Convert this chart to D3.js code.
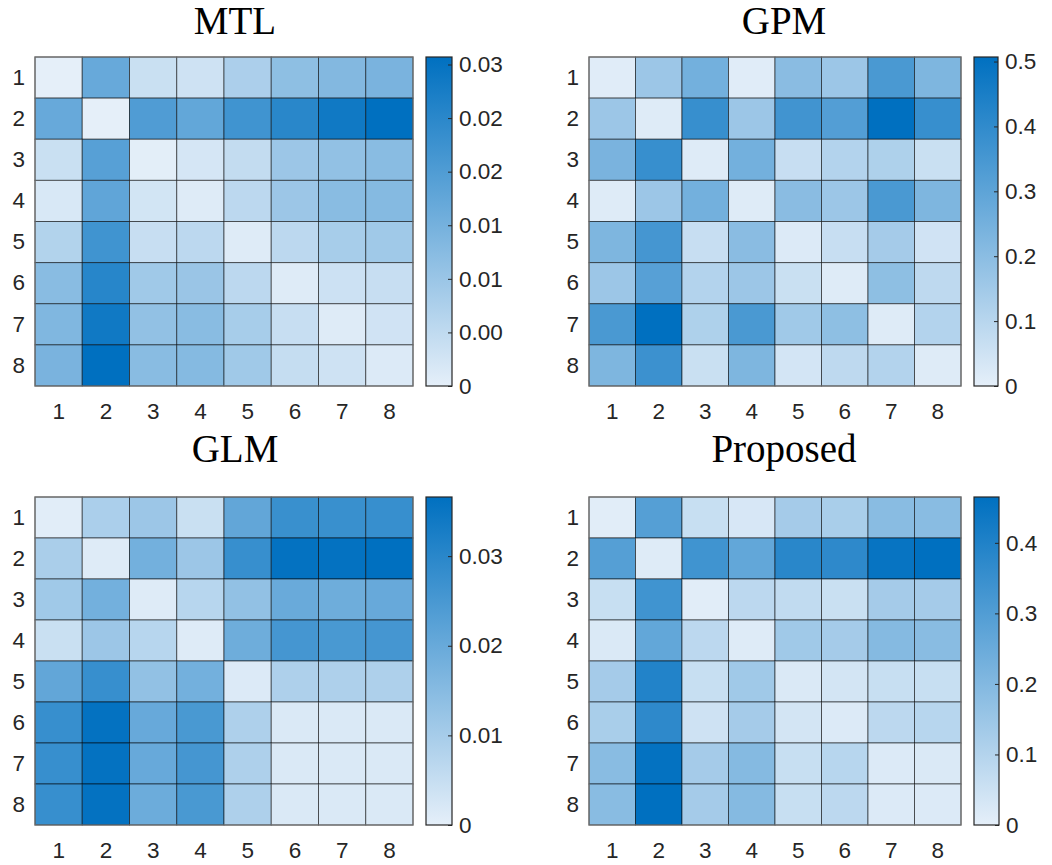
<!DOCTYPE html>
<html>
	<head>
		<title>Heatmaps</title>
		<style>
			body { margin: 0; background: #fff; }
			.tick text { font-family: "Liberation Sans", Arial, sans-serif; font-size: 22.5px; fill: #262626; }
			.title { font-family: "Liberation Serif", "Times New Roman", serif; font-size: 39px; fill: #000; }
		</style>
	</head>
	<body>
		<div class="heatmaps"></div>

		<script src="https://cdnjs.cloudflare.com/ajax/libs/d3/7.8.5/d3.min.js"></script>

		<script type="text/javascript">
			var labels = ["1", "2", "3", "4", "5", "6", "7", "8"];

			// MTL
			var mtlValues = [
				[0.0000, 0.0169, 0.0037, 0.0031, 0.0077, 0.0117, 0.0132, 0.0144],
				[0.0169, 0.0000, 0.0200, 0.0175, 0.0221, 0.0252, 0.0286, 0.0307],
				[0.0037, 0.0190, 0.0003, 0.0021, 0.0046, 0.0098, 0.0111, 0.0123],
				[0.0018, 0.0178, 0.0025, 0.0009, 0.0055, 0.0098, 0.0123, 0.0129],
				[0.0068, 0.0221, 0.0040, 0.0055, 0.0009, 0.0055, 0.0083, 0.0092],
				[0.0123, 0.0255, 0.0092, 0.0101, 0.0055, 0.0009, 0.0034, 0.0040],
				[0.0135, 0.0286, 0.0111, 0.0123, 0.0083, 0.0040, 0.0009, 0.0028],
				[0.0144, 0.0307, 0.0123, 0.0129, 0.0092, 0.0043, 0.0031, 0.0012]
			];
			var mtlMax = 0.0307;
			var mtlTicks = [0, 0.005, 0.01, 0.015, 0.02, 0.025, 0.03];
			var mtlTickLabels = ["0", "0.00", "0.01", "0.01", "0.02", "0.02", "0.03"];

			// GPM
			var gpmValues = [
				[0.010, 0.162, 0.253, 0.010, 0.202, 0.162, 0.344, 0.228],
				[0.162, 0.015, 0.385, 0.162, 0.364, 0.324, 0.507, 0.385],
				[0.238, 0.385, 0.015, 0.253, 0.066, 0.111, 0.121, 0.061],
				[0.015, 0.162, 0.253, 0.015, 0.202, 0.162, 0.344, 0.228],
				[0.228, 0.354, 0.066, 0.202, 0.020, 0.066, 0.142, 0.046],
				[0.162, 0.314, 0.111, 0.162, 0.061, 0.015, 0.192, 0.086],
				[0.344, 0.507, 0.121, 0.344, 0.152, 0.192, 0.015, 0.111],
				[0.228, 0.374, 0.061, 0.228, 0.040, 0.086, 0.111, 0.015]
			];
			var gpmMax = 0.507;
			var gpmTicks = [0, 0.1, 0.2, 0.3, 0.4, 0.5];
			var gpmTickLabels = ["0", "0.1", "0.2", "0.3", "0.4", "0.5"];

			// GLM
			var glmValues = [
				[0.0007, 0.0092, 0.0117, 0.0044, 0.0209, 0.0275, 0.0275, 0.0278],
				[0.0095, 0.0011, 0.0183, 0.0117, 0.0278, 0.0359, 0.0359, 0.0366],
				[0.0110, 0.0183, 0.0011, 0.0073, 0.0132, 0.0198, 0.0190, 0.0201],
				[0.0044, 0.0117, 0.0073, 0.0011, 0.0190, 0.0256, 0.0249, 0.0256],
				[0.0209, 0.0278, 0.0132, 0.0183, 0.0015, 0.0088, 0.0088, 0.0088],
				[0.0278, 0.0359, 0.0201, 0.0249, 0.0088, 0.0018, 0.0018, 0.0018],
				[0.0278, 0.0359, 0.0201, 0.0256, 0.0088, 0.0018, 0.0018, 0.0018],
				[0.0278, 0.0359, 0.0194, 0.0249, 0.0088, 0.0018, 0.0018, 0.0018]
			];
			var glmMax = 0.0366;
			var glmTicks = [0, 0.01, 0.02, 0.03];
			var glmTickLabels = ["0", "0.01", "0.02", "0.03"];

			// Proposed
			var proposedValues = [
				[0.009, 0.293, 0.060, 0.028, 0.130, 0.121, 0.186, 0.186],
				[0.293, 0.014, 0.335, 0.265, 0.381, 0.372, 0.451, 0.465],
				[0.060, 0.335, 0.009, 0.084, 0.074, 0.056, 0.130, 0.130],
				[0.023, 0.265, 0.084, 0.014, 0.140, 0.130, 0.195, 0.186],
				[0.130, 0.395, 0.060, 0.140, 0.023, 0.037, 0.060, 0.060],
				[0.121, 0.372, 0.047, 0.130, 0.037, 0.019, 0.084, 0.093],
				[0.186, 0.456, 0.130, 0.195, 0.060, 0.093, 0.019, 0.023],
				[0.186, 0.465, 0.130, 0.195, 0.060, 0.084, 0.019, 0.019]
			];
			var proposedMax = 0.465;
			var proposedTicks = [0, 0.1, 0.2, 0.3, 0.4];
			var proposedTickLabels = ["0", "0.1", "0.2", "0.3", "0.4"];

			var lightColor = "#e5eff9",
				darkColor = "#0070c0";

			var svg = d3.select(".heatmaps").append("svg")
				.attr("width", 1052)
				.attr("height", 865);

			// panel boxes: heatmap area, colorbar area, title baseline
			var panels = [
				{title: "MTL", values: mtlValues, max: mtlMax, ticks: mtlTicks, tickLabels: mtlTickLabels,
					x0: 35, x1: 413, y0: 57, y1: 386, cb0: 426, cb1: 452, titleX: 235, titleY: 34},
				{title: "GPM", values: gpmValues, max: gpmMax, ticks: gpmTicks, tickLabels: gpmTickLabels,
					x0: 589, x1: 961, y0: 57, y1: 386, cb0: 974, cb1: 998, titleX: 784, titleY: 34},
				{title: "GLM", values: glmValues, max: glmMax, ticks: glmTicks, tickLabels: glmTickLabels,
					x0: 35, x1: 413, y0: 497, y1: 825, cb0: 426, cb1: 452, titleX: 235, titleY: 462},
				{title: "Proposed", values: proposedValues, max: proposedMax, ticks: proposedTicks, tickLabels: proposedTickLabels,
					x0: 589, x1: 961, y0: 497, y1: 825, cb0: 974, cb1: 999, titleX: 784, titleY: 462}
			];

			var defs = svg.append("defs");
			var grad = defs.append("linearGradient")
				.attr("id", "cbGrad")
				.attr("x1", 0).attr("y1", 1).attr("x2", 0).attr("y2", 0);
			grad.append("stop").attr("offset", "0%").attr("stop-color", lightColor);
			grad.append("stop").attr("offset", "100%").attr("stop-color", darkColor);

			panels.forEach(function(p){
				var x = d3.scaleBand().domain(labels).range([p.x0, p.x1]),
					y = d3.scaleBand().domain(labels).range([p.y0, p.y1]),
					z = d3.scaleLinear().domain([0, p.max]).range([lightColor, darkColor]).interpolate(d3.interpolateRgb);

				var g = svg.append("g").attr("class", "panel");

				var cells = [];
				p.values.forEach(function(row, r){
					row.forEach(function(v, c){
						cells.push({row: labels[r], col: labels[c], value: v});
					});
				});

				g.selectAll(".cell")
					.data(cells)
					.enter().append("rect")
					.attr("class", "cell")
					.attr("x", function(d){ return x(d.col); })
					.attr("y", function(d){ return y(d.row); })
					.attr("width", x.bandwidth())
					.attr("height", y.bandwidth())
					.attr("fill", function(d){ return z(d.value); })
					.attr("stroke", "#000")
					.attr("stroke-opacity", 0.55)
					.attr("stroke-width", 1);

				g.append("rect")
					.attr("x", p.x0).attr("y", p.y0)
					.attr("width", p.x1 - p.x0).attr("height", p.y1 - p.y0)
					.attr("fill", "none")
					.attr("stroke", "#6e6e6e")
					.attr("stroke-width", 1.2);

				// axes labels, no tick lines
				g.append("g")
					.attr("transform", "translate(" + p.x0 + ",0)")
					.call(d3.axisLeft(y).tickSize(0).tickPadding(10))
					.call(function(a){ a.select(".domain").remove(); });

				g.append("g")
					.attr("transform", "translate(0," + p.y1 + ")")
					.call(d3.axisBottom(x).tickSize(0).tickPadding(17))
					.call(function(a){ a.select(".domain").remove(); });

				// colorbar
				var cb = d3.scaleLinear().domain([0, p.max]).range([p.y1, p.y0]);
				g.append("rect")
					.attr("x", p.cb0).attr("y", p.y0)
					.attr("width", p.cb1 - p.cb0).attr("height", p.y1 - p.y0)
					.attr("fill", "url(#cbGrad)")
					.attr("stroke", "#262626")
					.attr("stroke-width", 1.2);

				g.append("g")
					.attr("transform", "translate(" + p.cb1 + ",0)")
					.call(d3.axisRight(cb)
						.tickValues(p.ticks)
						.tickFormat(function(d, i){ return p.tickLabels[i]; })
						.tickSizeInner(-4).tickSizeOuter(0).tickPadding(7))
					.call(function(a){
						a.select(".domain").remove();
						a.selectAll(".tick line").attr("stroke", "#262626");
					});

				g.append("text")
					.attr("class", "title")
					.attr("x", p.titleX)
					.attr("y", p.titleY)
					.attr("text-anchor", "middle")
					.text(p.title);
			});
		</script>
	</body>
</html>
